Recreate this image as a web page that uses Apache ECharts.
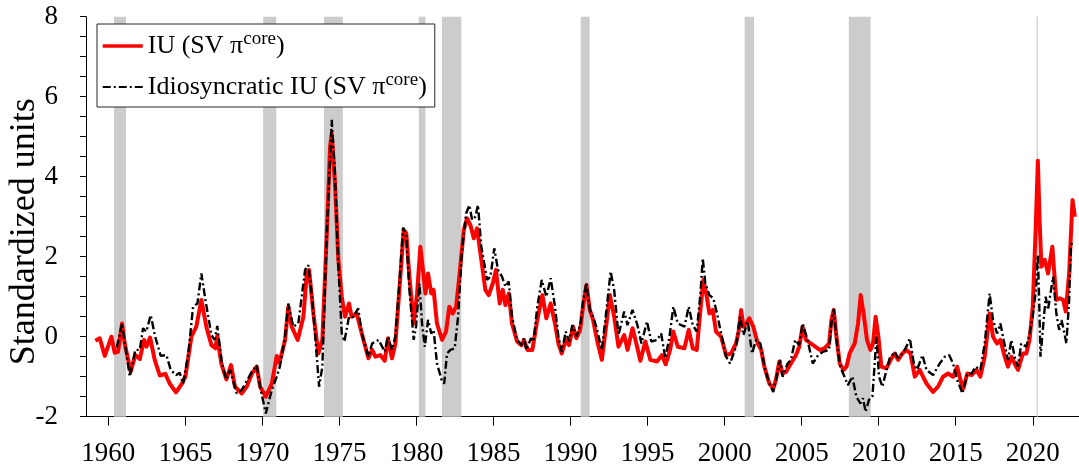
<!DOCTYPE html>
<html>
<head>
<meta charset="utf-8">
<script src="https://cdn.jsdelivr.net/npm/echarts@6/dist/echarts.min.js"></script>
<style>
  html, body { margin: 0; padding: 0; background: #fff; }
  #chart { width: 1079px; height: 468px; }
</style>
</head>
<body>
<div id="chart"></div>
<script>
// Inflation uncertainty, standardized units (decimal years on the x axis)
const iuYears = [
  1959.16, 1959.44, 1959.77, 1960.20, 1960.41, 1960.63, 1960.89, 1961.06, 1961.45, 1961.75,
  1962.04, 1962.32, 1962.47, 1962.71, 1963.01, 1963.34, 1963.70, 1963.98, 1964.39, 1964.78,
  1965.00, 1965.39, 1965.71, 1966.04, 1966.36, 1966.69, 1966.95, 1967.07, 1967.33, 1967.66,
  1967.96, 1968.22, 1968.66, 1968.98, 1969.31, 1969.63, 1969.85, 1970.22, 1970.61, 1970.93,
  1971.10, 1971.47, 1971.68, 1971.90, 1972.29, 1972.66, 1972.88, 1973.03, 1973.31, 1973.63,
  1973.89, 1974.18, 1974.39, 1974.50, 1974.71, 1974.93, 1975.15, 1975.36, 1975.62, 1975.79,
  1976.12, 1976.45, 1976.88, 1977.12, 1977.33, 1977.65, 1977.94, 1978.15, 1978.41, 1978.63,
  1978.89, 1979.17, 1979.34, 1979.54, 1979.82, 1980.04, 1980.25, 1980.47, 1980.58, 1980.75,
  1980.96, 1981.11, 1981.33, 1981.66, 1981.92, 1982.13, 1982.35, 1982.57, 1982.78, 1983.07,
  1983.28, 1983.50, 1983.72, 1983.93, 1984.21, 1984.47, 1984.69, 1984.95, 1985.16, 1985.40,
  1985.60, 1985.77, 1985.99, 1986.20, 1986.53, 1986.81, 1986.98, 1987.20, 1987.52, 1987.84,
  1988.17, 1988.43, 1988.71, 1988.99, 1989.21, 1989.43, 1989.69, 1989.90, 1990.16, 1990.38,
  1990.62, 1990.81, 1991.03, 1991.25, 1991.46, 1991.74, 1992.03, 1992.33, 1992.55, 1992.83,
  1993.11, 1993.48, 1993.70, 1994.02, 1994.27, 1994.53, 1994.85, 1995.18, 1995.61, 1995.93,
  1996.17, 1996.46, 1996.67, 1996.96, 1997.39, 1997.67, 1997.93, 1998.19, 1998.43, 1998.62,
  1998.84, 1999.01, 1999.23, 1999.44, 1999.77, 2000.09, 2000.42, 2000.74, 2000.91, 2001.07,
  2001.22, 2001.40, 2001.60, 2001.86, 2002.15, 2002.37, 2002.58, 2002.90, 2003.16, 2003.33,
  2003.55, 2003.76, 2003.98, 2004.30, 2004.63, 2004.84, 2005.06, 2005.28, 2005.60, 2005.88,
  2006.18, 2006.48, 2006.78, 2006.93, 2007.08, 2007.26, 2007.47, 2007.73, 2007.91, 2008.11,
  2008.44, 2008.66, 2008.83, 2009.02, 2009.24, 2009.46, 2009.63, 2009.80, 2009.98, 2010.17,
  2010.50, 2010.83, 2011.04, 2011.26, 2011.54, 2011.80, 2012.06, 2012.34, 2012.66, 2013.10,
  2013.53, 2013.85, 2014.18, 2014.50, 2014.83, 2015.09, 2015.37, 2015.50, 2015.75, 2016.03,
  2016.35, 2016.60, 2016.88, 2017.20, 2017.42, 2017.68, 2017.90, 2018.18, 2018.39, 2018.61,
  2018.82, 2019.04, 2019.36, 2019.58, 2019.79, 2020.00, 2020.20, 2020.33, 2020.45, 2020.56,
  2020.78, 2020.99, 2021.27, 2021.43, 2021.53, 2021.75, 2021.97, 2022.14, 2022.36, 2022.58,
  2022.73
];
const iuValues = [
  -0.10, -0.04, -0.48, 0.00, -0.40, -0.38, 0.33, -0.17, -0.87, -0.46,
  -0.56, -0.08, -0.25, -0.02, -0.58, -0.97, -0.93, -1.17, -1.39, -1.17,
  -1.00, 0.00, 0.25, 0.92, 0.25, -0.21, -0.29, 0.02, -0.67, -1.07,
  -0.71, -1.25, -1.42, -1.25, -0.93, -0.75, -1.25, -1.50, -1.17, -0.48,
  -0.66, -0.08, 0.75, 0.25, -0.08, 0.50, 1.58, 1.67, 0.58, -0.42,
  -0.08, 2.58, 4.75, 5.08, 3.83, 1.92, 1.00, 0.50, 0.83, 0.50,
  0.58, 0.08, -0.54, -0.33, -0.50, -0.46, -0.60, -0.04, -0.54, -0.17,
  1.17, 2.67, 2.58, 1.50, 0.33, 1.08, 2.25, 1.50, 1.08, 1.58,
  1.08, 1.17, 0.33, -0.08, 0.13, 0.75, 0.58, 0.75, 1.50, 2.67,
  2.96, 2.79, 2.46, 2.71, 1.92, 1.17, 1.04, 1.33, 1.67, 0.83,
  1.17, 0.79, 1.08, 0.33, -0.12, -0.21, -0.08, -0.33, -0.33, 0.42,
  1.04, 0.46, 0.83, 0.33, -0.17, -0.42, -0.08, -0.21, 0.25, -0.04,
  0.17, 0.75, 1.29, 0.67, 0.42, -0.12, -0.58, 0.33, 1.04, 0.50,
  -0.25, 0.04, -0.33, 0.21, -0.17, -0.60, -0.12, -0.58, -0.62, -0.46,
  -0.69, -0.33, 0.13, -0.25, -0.29, 0.17, -0.29, -0.33, 0.67, 1.42,
  1.00, 0.58, 0.67, 0.13, 0.00, -0.46, -0.42, -0.17, 0.13, 0.67,
  0.25, 0.33, 0.46, 0.25, -0.17, -0.33, -0.75, -1.17, -1.29, -1.08,
  -0.62, -0.92, -0.88, -0.67, -0.46, -0.25, 0.25, -0.08, -0.17, -0.25,
  -0.33, -0.29, -0.17, 0.42, 0.67, 0.00, -0.67, -0.83, -0.75, -0.42,
  -0.17, 0.33, 1.04, 0.58, -0.08, -0.33, -0.17, 0.50, 0.00, -0.75,
  -0.79, -0.54, -0.42, -0.58, -0.42, -0.33, -0.42, -1.00, -0.83, -1.17,
  -1.38, -1.25, -1.00, -0.92, -1.00, -0.75, -1.17, -1.29, -0.92, -0.96,
  -0.83, -1.00, -0.50, 0.58, 0.00, -0.17, -0.08, -0.50, -0.75, -0.50,
  -0.67, -0.83, -0.42, -0.42, -0.08, 0.75, 2.83, 4.40, 2.83, 1.75,
  1.92, 1.58, 2.25, 1.42, 0.92, 0.96, 0.92, 0.63, 1.58, 3.42,
  3.00
];

// Idiosyncratic inflation uncertainty
const idioYears = [
  1960.55, 1960.89, 1961.39, 1961.75, 1962.04, 1962.25, 1962.47, 1962.75, 1963.04, 1963.40,
  1963.77, 1964.05, 1964.41, 1964.63, 1964.85, 1965.17, 1965.50, 1965.78, 1966.04, 1966.30,
  1966.69, 1966.90, 1967.07, 1967.37, 1967.66, 1967.90, 1968.33, 1968.66, 1969.31, 1969.63,
  1969.85, 1970.22, 1970.61, 1970.93, 1971.13, 1971.47, 1971.68, 1972.00, 1972.33, 1972.77,
  1972.98, 1973.24, 1973.68, 1973.89, 1974.18, 1974.50, 1974.71, 1974.93, 1975.15, 1975.32,
  1975.62, 1975.90, 1976.22, 1976.45, 1976.88, 1977.12, 1977.55, 1977.94, 1978.15, 1978.41,
  1978.63, 1978.89, 1979.13, 1979.34, 1979.54, 1979.82, 1979.97, 1980.19, 1980.36, 1980.54,
  1980.75, 1980.96, 1981.11, 1981.33, 1981.66, 1981.80, 1981.98, 1982.20, 1982.48, 1982.70,
  1982.96, 1983.22, 1983.43, 1983.61, 1983.82, 1983.99, 1984.21, 1984.58, 1984.80, 1985.05,
  1985.29, 1985.55, 1985.77, 1985.99, 1986.20, 1986.53, 1986.81, 1986.98, 1987.13, 1987.43,
  1987.60, 1987.84, 1988.13, 1988.43, 1988.71, 1988.99, 1989.21, 1989.43, 1989.69, 1989.90,
  1990.12, 1990.38, 1990.66, 1990.81, 1991.03, 1991.25, 1991.46, 1991.67, 1992.03, 1992.33,
  1992.60, 1992.83, 1993.11, 1993.48, 1993.70, 1994.02, 1994.34, 1994.60, 1994.96, 1995.24,
  1995.61, 1995.88, 1996.15, 1996.42, 1996.67, 1996.96, 1997.39, 1997.67, 1997.93, 1998.19,
  1998.43, 1998.58, 1998.75, 1999.01, 1999.27, 1999.55, 1999.77, 2000.09, 2000.35, 2000.74,
  2001.00, 2001.22, 2001.50, 2001.78, 2002.04, 2002.32, 2002.58, 2002.90, 2003.16, 2003.33,
  2003.60, 2003.76, 2004.09, 2004.30, 2004.58, 2004.84, 2005.06, 2005.38, 2005.72, 2006.07,
  2006.37, 2006.78, 2006.93, 2007.08, 2007.26, 2007.50, 2007.78, 2008.00, 2008.29, 2008.55,
  2008.81, 2008.98, 2009.15, 2009.37, 2009.59, 2009.74, 2009.85, 2010.02, 2010.24, 2010.45,
  2010.71, 2011.04, 2011.26, 2011.54, 2011.80, 2012.02, 2012.28, 2012.49, 2012.84, 2013.10,
  2013.53, 2013.96, 2014.29, 2014.57, 2014.83, 2015.09, 2015.44, 2015.75, 2016.03, 2016.30,
  2016.60, 2016.88, 2017.20, 2017.42, 2017.68, 2017.90, 2018.11, 2018.39, 2018.61, 2018.82,
  2019.04, 2019.25, 2019.58, 2019.79, 2020.00, 2020.20, 2020.33, 2020.41, 2020.50, 2020.67,
  2020.84, 2020.99, 2021.15, 2021.32, 2021.53, 2021.71, 2021.86, 2022.01, 2022.18, 2022.36,
  2022.47, 2022.58
];
const idioValues = [
  -0.27, 0.33, -1.00, -0.33, -0.33, 0.21, 0.13, 0.54, 0.00, -0.48,
  -0.46, -0.83, -0.96, -0.90, -1.17, -0.50, 0.75, 0.83, 1.58, 0.92,
  0.04, -0.08, 0.27, -0.67, -1.07, -0.83, -1.42, -1.33, -0.88, -0.71,
  -1.25, -1.92, -1.33, -1.00, -0.75, 0.00, 0.83, 0.25, 0.33, 1.67,
  1.79, 0.92, -1.25, -0.75, 2.58, 5.42, 4.08, 1.75, 0.08, -0.12,
  0.50, 0.50, 0.71, 0.08, -0.50, -0.17, -0.08, -0.38, 0.00, -0.33,
  0.00, 1.33, 2.73, 2.50, 1.17, -0.08, 0.25, 1.33, 0.33, -0.25,
  0.42, 0.08, 0.17, -0.67, -1.12, -1.17, -0.42, -0.33, -0.29, 0.50,
  2.17, 3.08, 3.29, 2.92, 3.00, 3.29, 2.25, 1.42, 1.50, 2.21,
  1.67, 1.50, 1.25, 1.38, 0.50, -0.08, -0.21, -0.04, -0.33, -0.04,
  -0.12, 0.75, 1.42, 1.00, 1.46, 0.75, 0.00, -0.38, 0.13, -0.12,
  0.29, 0.00, 0.33, 0.88, 1.35, 0.67, 0.50, 0.25, -0.33, 0.67,
  1.63, 1.17, 0.04, 0.63, 0.29, 0.67, 0.29, -0.17, 0.38, -0.12,
  -0.08, 0.08, -0.54, 0.00, 0.75, 0.33, 0.25, 0.75, 0.29, 0.13,
  1.08, 1.96, 1.33, 1.04, 0.96, 0.50, 0.08, -0.50, -0.67, -0.25,
  0.50, 0.04, 0.38, -0.42, -0.08, -0.17, -0.75, -1.17, -1.38, -1.08,
  -0.58, -1.00, -0.67, -0.58, -0.08, -0.21, 0.33, -0.08, -0.67, -0.46,
  -0.38, -0.33, 0.33, 0.69, -0.08, -0.75, -1.00, -1.21, -1.00, -1.50,
  -1.67, -1.54, -1.88, -1.58, -1.50, -0.67, 0.00, -1.00, -1.25, -0.92,
  -0.54, -0.38, -0.54, -0.42, -0.25, -0.04, -0.67, -0.83, -0.46, -0.83,
  -0.96, -0.67, -0.50, -0.46, -0.67, -1.08, -1.42, -0.92, -0.92, -0.75,
  -0.83, -0.17, 1.08, 0.42, 0.08, 0.33, -0.08, -0.58, -0.08, -0.50,
  -0.75, -0.17, -0.25, 0.08, 0.50, 1.17, 2.04, 0.99, -0.50, 0.25,
  1.00, 0.67, 1.08, 1.50, 0.58, 0.17, 0.42, 0.17, -0.17, 0.92,
  2.25, 2.40
];

// NBER recession periods (start, end) in decimal years
const recessionStarts = [1960.37, 1970.05, 1974.00, 1980.15, 1981.65, 1990.66, 2001.30, 2008.06, 2020.25];
const recessionEnds   = [1961.15, 1970.90, 1975.22, 1980.58, 1982.91, 1991.24, 2001.91, 2009.48, 2020.33];

const yearTicks = [1960, 1965, 1970, 1975, 1980, 1985, 1990, 1995, 2000, 2005, 2010, 2015, 2020];

const FONT = 'Liberation Serif';
const pair = (xs, ys) => xs.map((x, i) => [x, ys[i]]);

const chart = echarts.init(document.getElementById('chart'), null, { renderer: 'canvas' });

const option = {
  animation: false,
  backgroundColor: '#ffffff',
  grid: { left: 86, right: 0, top: 16.7, bottom: 51.3, outerBoundsMode: 'none' },
  legend: {
    data: [
      { name: 'IU', lineStyle: { width: 3.5 } },
      { name: 'Idiosyncratic IU', lineStyle: { width: 2.2 } }
    ],
    orient: 'vertical',
    left: 97,
    top: 24,
    backgroundColor: '#ffffff',
    borderColor: '#262626',
    borderWidth: 1,
    borderRadius: 0,
    padding: [6, 8, 4, 4],
    itemWidth: 40,
    itemHeight: 14,
    itemGap: 9,
    selectedMode: false,
    // line-only keys: hide the marker that line legends draw by default
    itemStyle: { opacity: 0 },
    textStyle: {
      fontFamily: FONT,
      color: '#000',
      rich: {
        t: { fontFamily: FONT, fontSize: 26, color: '#000', lineHeight: 32 },
        s: { fontFamily: FONT, fontSize: 19, color: '#000', lineHeight: 19, padding: [0, 0, 13, 0] }
      }
    },
    formatter: function (name) {
      const base = name === 'IU' ? 'IU (SV \u03c0' : 'Idiosyncratic IU (SV \u03c0';
      return '{t|' + base + '}{s|core}{t|)}';
    }
  },
  xAxis: {
    type: 'value',
    min: 1958.55,
    max: 2023,
    splitLine: { show: false },
    axisLine: { show: true, onZero: false, lineStyle: { color: '#000', width: 1 } },
    axisTick: { show: true, customValues: yearTicks, length: 9, lineStyle: { color: '#000', width: 1 } },
    axisLabel: {
      customValues: yearTicks,
      fontFamily: FONT, fontSize: 27, color: '#000', margin: 24,
      formatter: function (v) { return String(Math.round(v)); }
    }
  },
  yAxis: {
    type: 'value',
    min: -2,
    max: 8,
    interval: 2,
    name: 'Standardized units',
    nameLocation: 'middle',
    nameGap: 43,
    nameMoveOverlap: false,
    nameTextStyle: { fontFamily: FONT, fontSize: 36, color: '#000', padding: [0, 30, 0, 0] },
    splitLine: { show: false },
    axisLine: { show: true, onZero: false, lineStyle: { color: '#000', width: 1 } },
    axisTick: { show: true, length: 6, lineStyle: { color: '#000', width: 1 } },
    minorTick: { show: true, splitNumber: 4, length: 6, lineStyle: { color: '#000', width: 1 } },
    axisLabel: { fontFamily: FONT, fontSize: 27, color: '#000', margin: 28 }
  },
  series: [
    {
      name: 'recessions',
      type: 'line',
      data: [],
      silent: true,
      z: 1,
      markArea: {
        silent: true,
        itemStyle: { color: '#cccccc', opacity: 1 },
        data: recessionStarts.map((s, i) => [{ xAxis: s }, { xAxis: recessionEnds[i] }])
      }
    },
    {
      name: 'IU',
      type: 'line',
      data: pair(iuYears, iuValues),
      symbol: 'none',
      z: 2,
      emphasis: { disabled: true },
      lineStyle: { color: '#ff0000', width: 4, join: 'round' },
      itemStyle: { color: '#ff0000' }
    },
    {
      name: 'Idiosyncratic IU',
      type: 'line',
      data: pair(idioYears, idioValues),
      symbol: 'none',
      z: 3,
      emphasis: { disabled: true },
      lineStyle: { color: '#000000', width: 2.4, type: [8, 3, 2, 3] },
      itemStyle: { color: '#000000' }
    }
  ]
};

chart.setOption(option);
</script>
</body>
</html>
